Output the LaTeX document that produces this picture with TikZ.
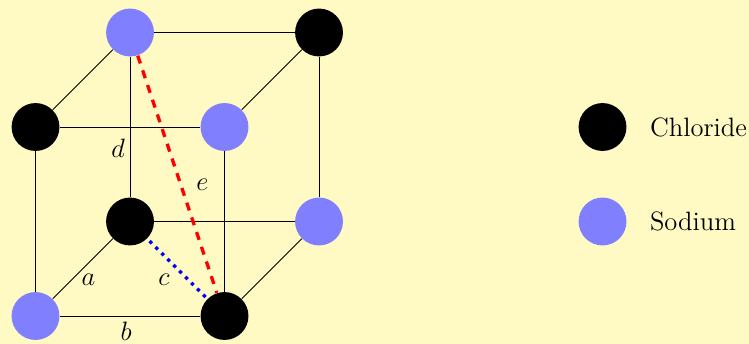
\documentclass[tikz,border=0pt]{standalone}
\usepackage{xcolor}
\usepackage{tikz}
\usetikzlibrary{positioning}
\definecolor{paper}{RGB}{255,249,196}
\tikzset{
  chloride/.style={circle, fill=black, inner sep=0pt, minimum size=0.76cm},
  sodium/.style={circle, fill=blue!50, inner sep=0pt, minimum size=0.76cm},
  legendtext/.style={font=\fontsize{12}{14}\selectfont, inner sep=0pt, anchor=west},
  edgelabel/.style={font=\fontsize{12}{14}\selectfont, inner sep=0pt}
}
\begin{document}
\begin{tikzpicture}
\fill[paper] (-0.564,-0.444) rectangle (11.325,5.016);
\useasboundingbox (-0.564,-0.444) rectangle (11.325,5.016);
% front face
\node[sodium] (fbl) at (0,0) {};
\node[chloride] (fbr) at (3,0) {};
\node[chloride] (ftl) at (0,3) {};
\node[sodium] (ftr) at (3,3) {};
% back face
\node[chloride] (bbl) at (1.5,1.5) {};
\node[sodium] (bbr) at (4.5,1.5) {};
\node[sodium] (btl) at (1.5,4.5) {};
\node[chloride] (btr) at (4.5,4.5) {};
% edges
\draw (fbl) -- (fbr);
\draw (fbr) -- (ftr);
\draw (ftr) -- (ftl);
\draw (ftl) -- (fbl);
\draw (bbl) -- (bbr);
\draw (bbr) -- (btr);
\draw (btr) -- (btl);
\draw (btl) -- (bbl);
\draw (fbl) -- (bbl);
\draw (fbr) -- (bbr);
\draw (ftl) -- (btl);
\draw (ftr) -- (btr);
% diagonals
\draw[blue, line width=1.5pt, dash pattern=on 1.5pt off 2.3pt, dash phase=-1.5pt] (bbl) -- (fbr);
\draw[red, line width=1.5pt, dash pattern=on 3.7pt off 3.3pt] (btl) -- (fbr);
% labels
\node[edgelabel] (a) at (0.84,0.58) {$a$};
\node[edgelabel] (b) at (1.44,-0.24) {$b$};
\node[edgelabel] (c) at (2.04,0.58) {$c$};
\node[edgelabel] (d) at (1.31,2.67) {$d$};
\node[edgelabel] (e) at (2.65,2.08) {$e$};
% legend
\node[chloride] (keycl) at (9,3) {};
\node[sodium] (keyna) at (9,1.5) {};
\node[legendtext, right=0.36cm of keycl] (namecl) {Chloride};
\node[legendtext, right=0.36cm of keyna] (namena) {Sodium};
\end{tikzpicture}
\end{document}
